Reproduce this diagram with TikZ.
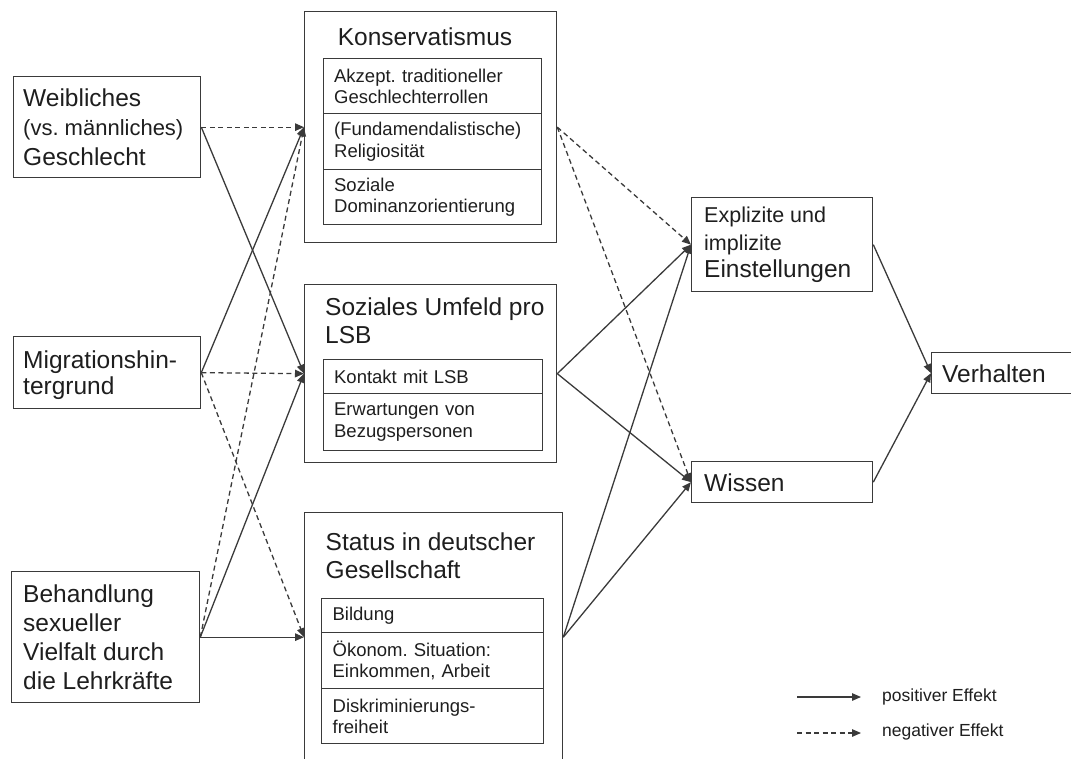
\documentclass[tikz,border=0pt]{standalone}
\usepackage{fontspec}
\setmainfont{Liberation Sans}
\usetikzlibrary{arrows.meta}
\frenchspacing
\definecolor{lc}{HTML}{3A3A3A}
\definecolor{tc}{HTML}{1E1E1E}
\newcommand{\bigf}{\fontsize{24.5}{29}\selectfont}
\newcommand{\smf}{\fontsize{18.5}{21.5}\selectfont}
\begin{document}
\begin{tikzpicture}[x=1pt,y=-1pt,
  box/.style={draw=lc, line width=1.3pt, rectangle, inner sep=0pt, anchor=north west},
  row/.style={draw=lc, line width=1.3pt, rectangle, anchor=north west, inner xsep=11pt, inner ysep=0pt, align=left, text=tc, font=\smf},
  lbl/.style={anchor=west, inner sep=0pt, align=left, text=tc},
  posarr/.style={draw=lc, line width=1.3pt, -{Triangle[length=9pt,width=7.5pt]}},
  negarr/.style={posarr, dash pattern=on 5pt off 3.5pt},
]
\useasboundingbox (0,0) rectangle (1071,758);
\clip (0,0) rectangle (1071,758);

% left boxes
\node[box, minimum width=187.5pt, minimum height=101pt] (weib) at (12.5,76) {};
\node[lbl, font=\fontsize{24.5}{29.5}\selectfont] (weibtxt) at (23,127) {Weibliches\\{\fontsize{22}{29.5}\selectfont(vs. männliches)}\\Geschlecht};

\node[box, minimum width=187.5pt, minimum height=72pt] (migr) at (12.5,336) {};
\node[lbl, font=\fontsize{24.5}{25.5}\selectfont] (migrtxt) at (23,375) {Migrationshin-\\tergrund};

\node[box, minimum width=188pt, minimum height=131pt] (beh) at (11,571) {};
\node[lbl, font=\fontsize{24.5}{29}\selectfont] (behtxt) at (23,637) {Behandlung\\sexueller\\Vielfalt durch\\die Lehrkräfte};

% Konservatismus
\node[box, minimum width=252pt, minimum height=231pt] (konserv) at (304,11) {};
\node[text=tc, font=\bigf, inner sep=0pt] (konservtit) at (425,37) {Konservatismus};
\node[row, minimum width=218.5pt, text width=196.5pt, minimum height=55pt] (k1) at (322.5,58) {Akzept. traditioneller\\Geschlechterrollen};
\node[row, minimum width=218.5pt, text width=196.5pt, minimum height=56pt] (k2) at (322.5,113) {(Fundamendalistische)\\Religiosität};
\node[row, minimum width=218.5pt, text width=196.5pt, minimum height=55pt] (k3) at (322.5,169) {Soziale\\Dominanzorientierung};

% Soziales Umfeld
\node[box, minimum width=252pt, minimum height=178pt] (soz) at (304,284) {};
\node[lbl, font=\fontsize{24.5}{28}\selectfont] (soztit) at (325,321) {Soziales Umfeld pro\\LSB};
\node[row, minimum width=219.5pt, text width=197.5pt, minimum height=34pt] (s1) at (322.5,359) {Kontakt mit LSB};
\node[row, minimum width=219.5pt, text width=197.5pt, minimum height=57pt] (s2) at (322.5,393) {Erwartungen von\\Bezugspersonen};

% Status
\node[box, minimum width=258pt, minimum height=280pt] (status) at (304,512) {};
\node[lbl, font=\fontsize{24.5}{28}\selectfont] (statustit) at (325.5,556) {Status in deutscher\\Gesellschaft};
\node[row, minimum width=222pt, text width=200pt, minimum height=34pt] (t1) at (321,598) {Bildung};
\node[row, minimum width=222pt, text width=200pt, minimum height=56pt] (t2) at (321,632) {Ökonom. Situation:\\Einkommen, Arbeit};
\node[row, minimum width=222pt, text width=200pt, minimum height=55pt] (t3) at (321,688) {Diskriminierungs-\\freiheit};

% right boxes
\node[box, minimum width=181pt, minimum height=94pt] (expl) at (691,197) {};
\node[lbl, font=\fontsize{21.5}{27.5}\selectfont] (expltxt) at (704,245) {Explizite und\\implizite\\{\fontsize{24.5}{28.5}\selectfont Einstellungen}};

\node[box, minimum width=181pt, minimum height=41pt] (wiss) at (691,461) {};
\node[lbl, font=\bigf] (wisstxt) at (704,482.5) {Wissen};

\node[box, minimum width=143pt, minimum height=41pt] (verh) at (931,352) {};
\node[lbl, font=\bigf] (verhtxt) at (942,374) {Verhalten};

% ports
\coordinate (statIn) at (status.west |- beh.east);
\coordinate (statOut) at (status.east |- beh.east);

% arrows left
\draw[negarr] (weib.east) -- (konserv.west);
\draw[posarr] (weib.east) -- (soz.west);
\draw[posarr] (migr.east) -- (konserv.west);
\draw[negarr] (migr.east) -- (soz.west);
\draw[negarr] (migr.east) -- (statIn);
\draw[negarr] (beh.east) -- (konserv.west);
\draw[posarr] (beh.east) -- (soz.west);
\draw[posarr] (beh.east) -- (statIn);

% arrows middle
\draw[negarr] (konserv.east) -- (expl.west);
\draw[negarr] (konserv.east) -- (wiss.west);
\draw[posarr] (soz.east) -- (expl.west);
\draw[posarr] (soz.east) -- (wiss.west);
\draw[posarr] (statOut) -- (expl.west);
\draw[posarr] (statOut) -- (wiss.west);

% arrows right
\draw[posarr] (expl.east) -- (verh.west);
\draw[posarr] (wiss.east) -- (verh.west);

% legend
\coordinate (l1a) at (797,697);
\coordinate (l1b) at (861,697);
\coordinate (l2a) at (797,733);
\coordinate (l2b) at (861,733);
\draw[posarr] (l1a) -- (l1b);
\draw[negarr] (l2a) -- (l2b);
\node[lbl, font=\fontsize{17.5}{20}\selectfont] (leg1) at (882,697) {positiver Effekt};
\node[lbl, font=\fontsize{17.5}{20}\selectfont] (leg2) at (882,732) {negativer Effekt};
\end{tikzpicture}
\end{document}
